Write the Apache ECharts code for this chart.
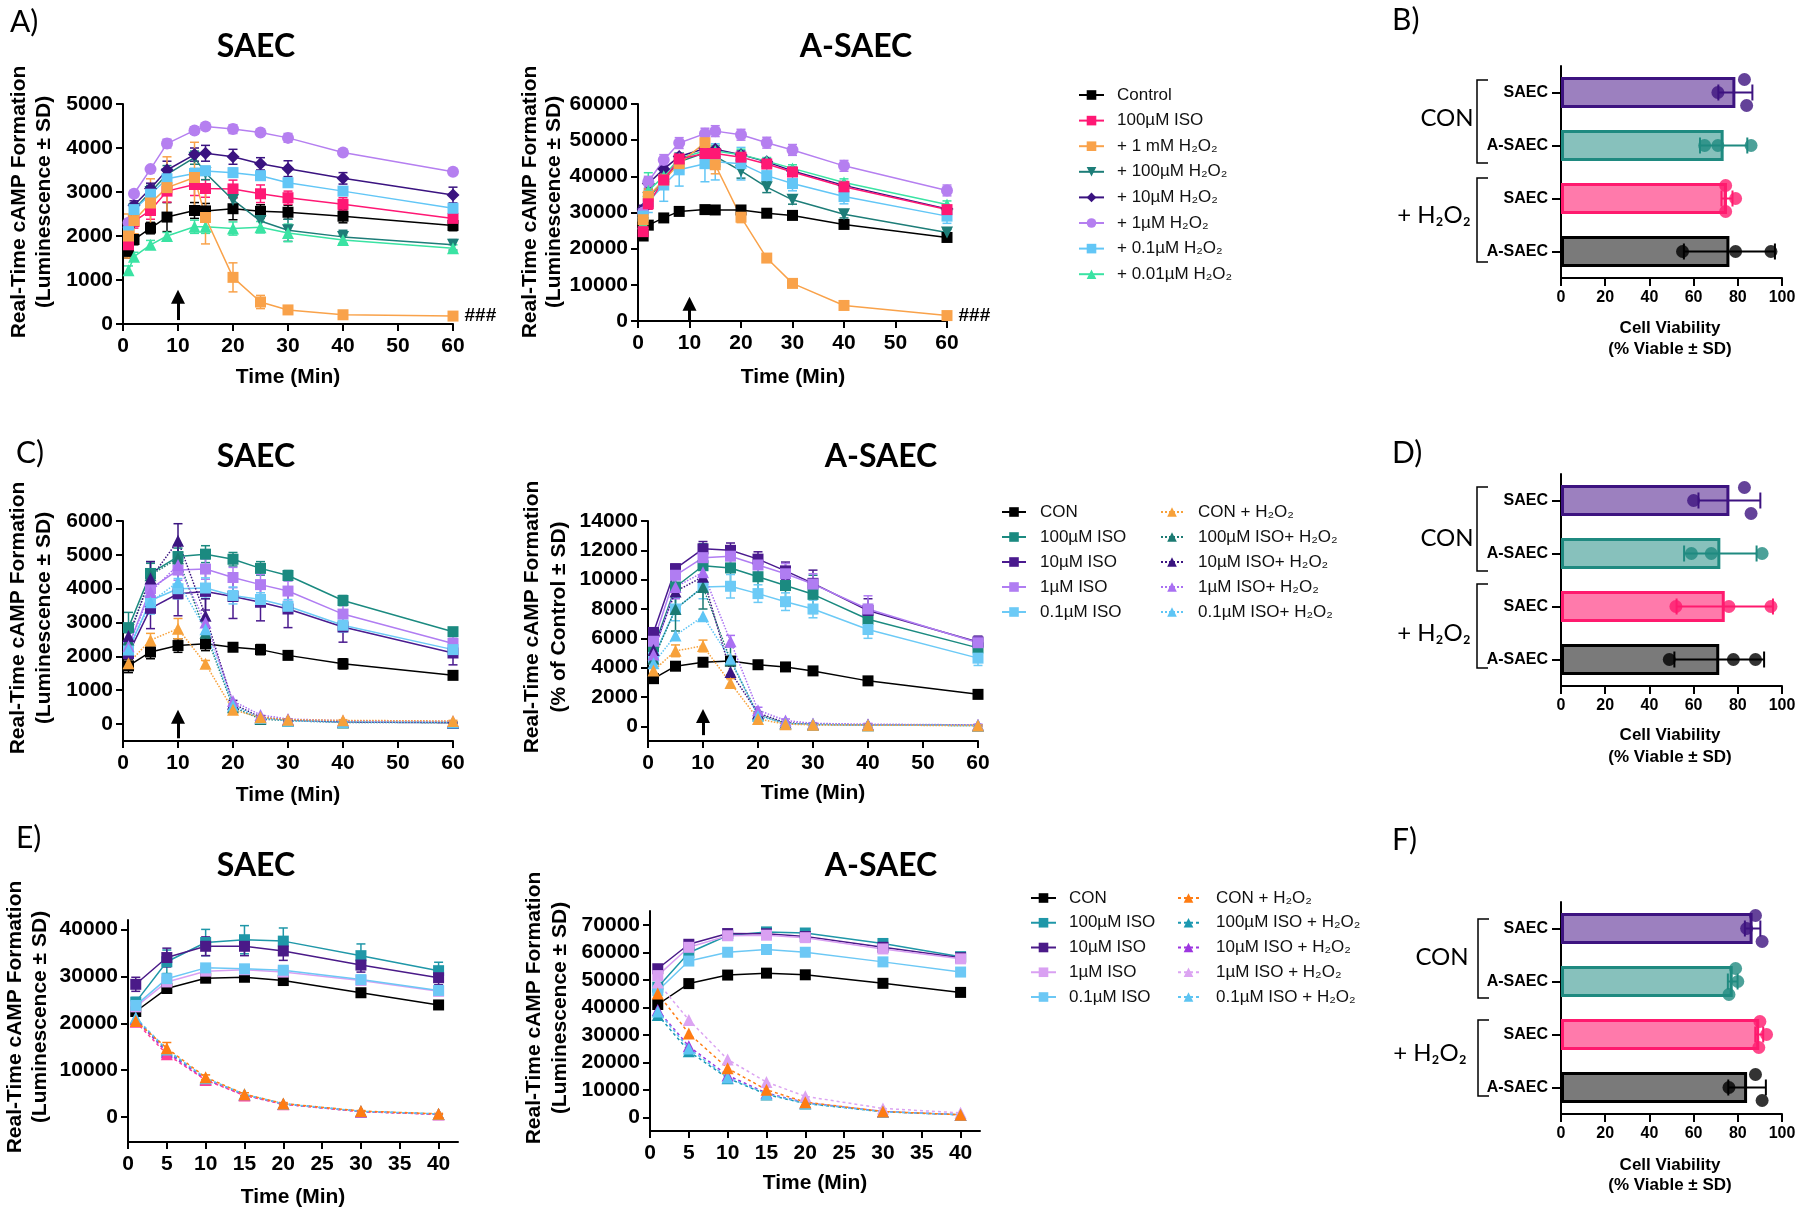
<!DOCTYPE html>
<html>
<head>
<meta charset="utf-8">
<script src="https://cdn.jsdelivr.net/npm/echarts@6/dist/echarts.min.js"></script>
<style>
html, body { margin: 0; padding: 0; background: #fff; }
#wrap { position: relative; width: 1800px; height: 1213px; }
.layer { position: absolute; left: 0; top: 0; width: 1800px; height: 1213px; }
</style>
</head>
<body>
<div id="wrap"></div>
<script>
// ---- A) H2O2 dose response (times in min) ----
const tA = [1, 2, 5, 8, 13, 15, 20, 25, 30, 40, 60]

const aS_control = [1650, 1920, 2180, 2430, 2580, 2570, 2620, 2560, 2540, 2450, 2240]
const aS_iso = [1800, 2330, 2580, 3020, 3170, 3080, 3070, 2960, 2870, 2720, 2400]
const aS_h1mM = [2000, 2350, 2750, 3100, 3330, 2420, 1060, 500, 320, 210, 180]
const aS_h100 = [2050, 2600, 3000, 3400, 3780, 3430, 2820, 2340, 2130, 1980, 1800]
const aS_h10 = [2200, 2700, 3080, 3500, 3850, 3880, 3800, 3640, 3530, 3310, 2930]
const aS_h1 = [2300, 2960, 3520, 4100, 4400, 4490, 4430, 4350, 4230, 3900, 3460]
const aS_h01 = [2100, 2600, 2950, 3300, 3420, 3480, 3440, 3370, 3210, 3020, 2630]
const aS_h001 = [1220, 1530, 1800, 2000, 2210, 2210, 2170, 2200, 2070, 1910, 1720]
const aS_control_sd = [150, 120, 130, 330, 180, 170, 250, 150, 160, 150, 120]
const aS_iso_sd = [150, 150, 200, 250, 250, 200, 200, 200, 150, 150, 120]
const aS_h1mM_sd = [500, 300, 550, 700, 800, 600, 330, 150, 60, 40, 30]
const aS_h100_sd = [150, 150, 150, 200, 150, 150, 150, 230, 250, 150, 120]
const aS_h10_sd = [100, 100, 120, 200, 150, 180, 170, 140, 180, 130, 180]
const aS_h1_sd = [60, 60, 60, 100, 80, 60, 100, 60, 100, 50, 60]
const aS_h01_sd = [100, 100, 100, 120, 120, 100, 100, 100, 100, 80, 100]
const aS_h001_sd = [100, 100, 100, 80, 150, 150, 150, 130, 200, 100, 80]

const aA_control = [23500, 26500, 28500, 30300, 30800, 30700, 30700, 29800, 29200, 26700, 23100]
const aA_iso = [24700, 32400, 39000, 44800, 46300, 46300, 45300, 43400, 41200, 37100, 30800]
const aA_h1mM = [28000, 34500, 39000, 43500, 49300, 43200, 28700, 17400, 10400, 4300, 1500]
const aA_h100 = [27000, 34000, 39000, 44000, 46500, 45500, 41500, 37000, 33500, 29500, 24500]
const aA_h10 = [31000, 38000, 42000, 45500, 47700, 47500, 46000, 44000, 41500, 37500, 31000]
const aA_h1 = [30000, 38500, 44500, 49200, 51800, 52500, 51500, 49300, 47300, 42900, 36100]
const aA_h01 = [29000, 33000, 37600, 41800, 43500, 44000, 43500, 40200, 38000, 34400, 29000]
const aA_h001 = [27000, 36000, 40000, 45000, 47000, 47000, 46000, 44200, 42200, 38300, 32200]
const aA_control_sd = [800, 600, 500, 400, 400, 400, 400, 400, 400, 400, 400]
const aA_iso_sd = [1000, 1500, 1500, 1500, 1500, 1500, 1200, 1000, 1000, 1500, 1000]
const aA_h1mM_sd = [2000, 2000, 2000, 2000, 3000, 2500, 1500, 800, 500, 500, 300]
const aA_h100_sd = [1000, 2000, 2000, 2000, 2000, 2000, 2000, 1500, 1200, 1000, 800]
const aA_h10_sd = [1000, 1500, 1000, 1000, 1000, 1000, 1000, 800, 1000, 1000, 800]
const aA_h1_sd = [1500, 1500, 1500, 1500, 1500, 1500, 1500, 1500, 1500, 1500, 1500]
const aA_h01_sd = [2000, 3000, 4500, 4500, 5000, 5000, 4500, 2000, 2000, 2000, 2000]
const aA_h001_sd = [1500, 5000, 1500, 1500, 1500, 1500, 1500, 1000, 1000, 1000, 1000]

// ---- C) ISO +/- H2O2 ----
const tC = [1, 5, 10, 15, 20, 25, 30, 40, 60]

const cS_con = [1720, 2130, 2320, 2370, 2270, 2200, 2030, 1780, 1440]
const cS_iso100 = [2850, 4450, 4950, 5020, 4870, 4600, 4390, 3650, 2730]
const cS_iso10 = [2080, 3420, 3850, 3920, 3770, 3600, 3400, 2870, 2100]
const cS_iso1 = [2300, 4000, 4550, 4580, 4330, 4120, 3930, 3250, 2380]
const cS_iso01 = [2200, 3650, 4000, 4020, 3800, 3680, 3480, 2920, 2200]
const cS_conH = [1800, 2480, 2820, 1780, 420, 200, 130, 110, 90]
const cS_iso100H = [2500, 4400, 4900, 2700, 500, 150, 100, 50, 40]
const cS_iso10H = [2600, 4300, 5420, 3200, 600, 200, 120, 60, 40]
const cS_iso1H = [2300, 3900, 4700, 3000, 680, 270, 150, 100, 80]
const cS_iso01H = [2200, 3600, 4200, 2800, 550, 180, 100, 60, 50]
const cS_con_sd = [200, 200, 200, 200, 100, 150, 100, 150, 80]
const cS_iso100_sd = [450, 300, 250, 250, 200, 200, 150, 150, 100]
const cS_iso10_sd = [250, 600, 650, 550, 650, 550, 550, 450, 350]
const cS_iso1_sd = [200, 500, 300, 300, 300, 300, 300, 300, 200]
const cS_iso01_sd = [150, 400, 300, 300, 250, 200, 200, 200, 150]
const cS_conH_sd = [200, 200, 300, 100, 50, 30, 20, 20, 20]
const cS_iso100H_sd = [200, 400, 400, 400, 100, 50, 30, 20, 20]
const cS_iso10H_sd = [200, 500, 500, 500, 100, 50, 30, 20, 20]

const cA_con = [3250, 4100, 4370, 4450, 4200, 4050, 3780, 3100, 2180]
const cA_iso100 = [5300, 9500, 10950, 10800, 10200, 9600, 9000, 7300, 5350]
const cA_iso10 = [6400, 10750, 12100, 12000, 11400, 10600, 9750, 7900, 5750]
const cA_iso1 = [5800, 10300, 11500, 11600, 11000, 10400, 9700, 8000, 5700]
const cA_iso01 = [4700, 8000, 9500, 9550, 9050, 8500, 8000, 6600, 4650]
const cA_conH = [3800, 5150, 5480, 2950, 500, 150, 100, 80, 50]
const cA_iso100H = [4600, 8000, 9500, 4500, 800, 200, 120, 80, 60]
const cA_iso10H = [5200, 9200, 10200, 3700, 900, 250, 150, 100, 80]
const cA_iso1H = [4900, 9500, 10500, 5800, 1100, 400, 200, 150, 100]
const cA_iso01H = [4300, 6200, 7500, 4600, 700, 200, 130, 80, 60]
const cA_con_sd = [200, 200, 200, 200, 200, 200, 200, 200, 200]
const cA_iso100_sd = [400, 1500, 1500, 1500, 1200, 1200, 1300, 1000, 600]
const cA_iso10_sd = [300, 300, 500, 500, 500, 600, 900, 800, 400]
const cA_iso1_sd = [300, 500, 500, 500, 500, 700, 700, 900, 400]
const cA_iso01_sd = [300, 800, 800, 800, 600, 600, 600, 600, 500]
const cA_conH_sd = [200, 400, 400, 300, 100, 50, 50, 50, 50]
const cA_iso100H_sd = [300, 1500, 1500, 1000, 200, 100, 50, 50, 50]
const cA_iso1H_sd = [300, 800, 800, 400, 200, 100, 50, 50, 50]

// ---- E) ISO +/- H2O2, 40 min ----
const tE = [1, 5, 10, 15, 20, 30, 40]

const eS_con = [22500, 27400, 29600, 29800, 29100, 26500, 23900]
const eS_iso100 = [24500, 33100, 37200, 37800, 37500, 34400, 31200]
const eS_iso10 = [28300, 34000, 36400, 36400, 35400, 32400, 29700]
const eS_iso1 = [23500, 28800, 31100, 31400, 30900, 29100, 26800]
const eS_iso01 = [23800, 29500, 31800, 31600, 31300, 29300, 27000]
const eS_conH = [20500, 14700, 8500, 4900, 2900, 1300, 700]
const eS_iso100H = [21000, 14200, 8200, 4800, 2800, 1200, 650]
const eS_iso10H = [20800, 13800, 8000, 4700, 2800, 1200, 600]
const eS_iso1H = [20300, 13400, 7900, 4600, 2750, 1150, 600]
const eS_iso01H = [21200, 14400, 8300, 4850, 2850, 1250, 680]
const eS_con_sd = [600, 500, 500, 500, 500, 500, 500]
const eS_iso100_sd = [1000, 2500, 2800, 3000, 2800, 2500, 1800]
const eS_iso10_sd = [1500, 2000, 2000, 2000, 2000, 1500, 1500]
const eS_iso1_sd = [800, 800, 800, 800, 800, 800, 800]
const eS_conH_sd = [1000, 1200, 500, 300, 200, 100, 100]

const eA_con = [41000, 48600, 51700, 52400, 51800, 48700, 45400]
const eA_iso100 = [47300, 59800, 66100, 67400, 67000, 63200, 58400]
const eA_iso10 = [54000, 62900, 66800, 66700, 65700, 61800, 58000]
const eA_iso1 = [51500, 61800, 66000, 66200, 65300, 61200, 57600]
const eA_iso01 = [46000, 56800, 60000, 61000, 60000, 56500, 52800]
const eA_conH = [45000, 30500, 17800, 10000, 5500, 2100, 900]
const eA_iso100H = [37200, 24000, 14200, 8300, 5000, 2000, 900]
const eA_iso10H = [39000, 25800, 15200, 8800, 5300, 2100, 900]
const eA_iso1H = [49000, 35400, 21000, 12800, 7600, 3200, 1600]
const eA_iso01H = [38500, 25000, 14500, 8500, 5100, 2000, 900]

// ---- B / D / F) viability ----
const barCats = ['SAEC', 'A-SAEC', 'SAEC ', 'A-SAEC ']
const bB_mean = [78.9, 73.6, 75.1, 76.2]
const bB_sd = [7.7, 10.7, 2.5, 20.6]
const bB_dots = [[83, 71, 84], [65, 71, 86], [74.5, 79, 74.5], [55, 79, 95]]
const bB_jit = [[-1, 0, 1], [0, 0, 0], [-1, 0, 1], [0, 0, 0]]
const bD_mean = [76.2, 72.1, 74.1, 71.6]
const bD_sd = [14, 16.4, 21.8, 20.3]
const bD_dots = [[83, 60, 86], [59, 68, 91], [52, 76, 95], [49, 78, 88]]
const bD_jit = [[-1, 0, 1], [0, 0, 0], [0, 0, 0], [0, 0, 0]]
const bF_mean = [86.7, 77.7, 89.7, 84.2]
const bF_sd = [3.5, 2.2, 1.8, 8.5]
const bF_dots = [[88, 84, 91], [79, 80, 76], [90, 93, 89.5], [88, 76, 91]]
const bF_jit = [[-1, 0, 1], [-1, 0, 1], [-1, 0, 1], [-1, 0, 1]]

const barFill = ['#9c80bf', '#87c1bc', '#ff7aab', '#7a7a7a']
const barEdge = ['#3d1380', '#1f8a80', '#ff1a6e', '#000000']

const AX = '"Liberation Sans", Arial, Helvetica, "DejaVu Sans", sans-serif'
const CAL = 'Lato, "Open Sans", "DejaVu Sans", sans-serif'
const wrap = document.getElementById('wrap')

function makeChart() {
  const d = document.createElement('div')
  d.className = 'layer'
  wrap.appendChild(d)
  return echarts.init(d, null, { renderer: 'canvas', width: 1800, height: 1213 })
}

function text(x, y, s, font, align, rot) {
  return {
    type: 'text', x, y, rotation: rot || 0, silent: true,
    style: { text: s, font, fill: '#000', textAlign: align || 'center', textVerticalAlign: 'middle', verticalAlign: 'middle' },
  }
}

function bracket(x, y0, y1) {
  return {
    type: 'polyline', silent: true,
    shape: { points: [[x + 11, y0], [x, y0], [x, y1], [x + 11, y1]] },
    style: { stroke: '#000', lineWidth: 1.5, fill: null },
  }
}

function errSeries(xs, ys, sd, color) {
  return {
    type: 'custom', silent: true, z: 2,
    encode: { x: 0, y: 1 },
    data: xs.map((x, i) => [x, ys[i], sd[i]]),
    renderItem(params, api) {
      const x = api.value(0), y = api.value(1), e = api.value(2)
      const a = api.coord([x, y + e]), b = api.coord([x, y - e])
      const w = 4.5
      const st = () => ({ stroke: color, lineWidth: 1.5 })
      return {
        type: 'group', children: [
          { type: 'line', shape: { x1: a[0], y1: a[1], x2: b[0], y2: b[1] }, style: st() },
          { type: 'line', shape: { x1: a[0] - w, y1: a[1], x2: a[0] + w, y2: a[1] }, style: st() },
          { type: 'line', shape: { x1: b[0] - w, y1: b[1], x2: b[0] + w, y2: b[1] }, style: st() },
        ],
      }
    },
  }
}

function mkLegend(L) {
  return {
    orient: 'vertical', left: L.left, top: L.top, padding: 0,
    itemWidth: L.w, itemHeight: 12, itemGap: L.gap, selectedMode: false,
    data: L.names,
    textStyle: { fontFamily: AX, fontSize: 17, color: '#111', lineHeight: 20, padding: [0, 0, 0, L.pad] },
  }
}

const axLine = { show: true, onZero: false, lineStyle: { color: '#000', width: 2 } }
const axTick = (vals) => ({ show: true, length: 7, customValues: vals, lineStyle: { color: '#000', width: 2 } })
const axLabel = (vals, margin) => ({
  customValues: vals, margin, color: '#000', fontFamily: AX, fontWeight: 'bold', fontSize: 21,
  formatter: (v) => String(v),
})

function linePanel(p) {
  const chart = makeChart()
  const series = []
  p.lines.forEach((s) => {
    const data = p.t.map((t, i) => [t, s.y[i]])
    if (s.tag) {
      const k = data.length - 1
      data[k] = {
        value: data[k],
        label: { show: true, formatter: s.tag, position: 'right', distance: 6, color: '#000', fontFamily: AX, fontWeight: 'bold', fontSize: 19 },
      }
    }
    series.push({
      type: 'line', name: s.name, data, z: 3,
      symbol: s.symbol, symbolSize: s.size || 11, symbolRotate: s.rot || 0,
      itemStyle: { color: s.color, borderWidth: 0 },
      lineStyle: { color: s.color, width: 1.5, type: s.dash || 'solid' },
      emphasis: { disabled: true },
    })
    if (s.sd) series.push(errSeries(p.t, s.y, s.sd, s.color))
  })
  if (p.arrow) {
    series[0].markLine = {
      silent: true, symbol: ['none', 'triangle'], symbolSize: 14,
      lineStyle: { color: '#000', width: 3, type: 'solid' },
      label: { show: false },
      data: [[{ coord: [10, p.arrow[0]] }, { coord: [10, p.arrow[1]] }]],
    }
  }
  const g = [
    text(p.title[1], p.title[2], p.title[0], 'bold 32px ' + CAL),
    text(p.yname[0][1], p.yname[2], p.yname[0][0], 'bold 21px ' + AX, 'center', Math.PI / 2),
    text(p.yname[1][1], p.yname[2], p.yname[1][0], 'bold 21px ' + AX, 'center', Math.PI / 2),
    text(p.xname[1], p.xname[2], p.xname[0], 'bold 21px ' + AX),
  ]
  if (p.letter) g.push(text(p.letter[1], p.letter[2], p.letter[0], '30px ' + CAL, 'left'))
  chart.setOption({
    animation: false,
    grid: Object.assign({ containLabel: false, outerBoundsMode: 'none' }, p.grid),
    xAxis: {
      type: 'value', min: p.x.min, max: p.x.max, interval: p.x.interval,
      axisLine: axLine, axisTick: axTick(p.x.ticks), axisLabel: axLabel(p.x.ticks, 12), splitLine: { show: false },
    },
    yAxis: {
      type: 'value', min: p.y.min, max: p.y.max, interval: p.y.interval,
      axisLine: axLine, axisTick: axTick(p.y.ticks), axisLabel: axLabel(p.y.ticks, 10), splitLine: { show: false },
    },
    legend: (p.legends || []).map(mkLegend),
    graphic: { elements: g },
    series,
  })
}

function barPanel(p) {
  const chart = makeChart()
  const dots = []
  p.dots.forEach((row, i) => row.forEach((v, j) => {
    dots.push({ value: [v, i], symbolOffset: [0, p.jit[i][j] * 13], itemStyle: { color: barEdge[i] } })
  }))
  chart.setOption({
    animation: false,
    grid: { left: 1561, top: p.top, width: 221, height: 212, containLabel: false, outerBoundsMode: 'none' },
    xAxis: {
      type: 'value', min: 0, max: 100, interval: 20,
      axisLine: axLine,
      axisTick: { show: true, length: 8, lineStyle: { color: '#000', width: 2 } },
      axisLabel: { color: '#000', fontFamily: AX, fontWeight: 'bold', fontSize: 16, margin: 12 },
      splitLine: { show: false },
    },
    yAxis: {
      type: 'category', inverse: true, data: barCats,
      axisLine: axLine,
      axisTick: { show: true, alignWithLabel: true, length: 9, lineStyle: { color: '#000', width: 2 } },
      axisLabel: { color: '#000', fontFamily: AX, fontWeight: 'bold', fontSize: 16, margin: 13, formatter: (v) => v.trim() },
    },
    graphic: {
      elements: [
        text(1392, p.letter[1], p.letter[0], '30px ' + CAL, 'left'),
        text(p.con[0], p.con[1], 'CON', '24px ' + CAL),
        text(p.h2o2[0], p.h2o2[1], '+ H₂O₂', '24px ' + CAL),
        bracket(p.bx, p.br1[0], p.br1[1]),
        bracket(p.bx, p.br2[0], p.br2[1]),
        text(1670, p.names[0], 'Cell Viability', 'bold 17px ' + AX),
        text(1670, p.names[1], '(% Viable ± SD)', 'bold 17px ' + AX),
      ],
    },
    series: [
      {
        type: 'bar', barWidth: 31, z: 1,
        data: p.mean.map((v, i) => ({ value: v, itemStyle: { color: barFill[i], borderColor: barEdge[i], borderWidth: 3 } })),
        emphasis: { disabled: true },
      },
      {
        type: 'custom', silent: true, z: 3,
        encode: { x: 0, y: 1 },
        data: p.mean.map((m, i) => [m, i, p.sd[i]]),
        renderItem(params, api) {
          const m = api.value(0), i = api.value(1), e = api.value(2)
          const a = api.coord([m - e, i]), b = api.coord([m + e, i])
          const c = barEdge[params.dataIndex]
          const st = () => ({ stroke: c, lineWidth: 2 })
          return {
            type: 'group', children: [
              { type: 'line', shape: { x1: a[0], y1: a[1], x2: b[0], y2: b[1] }, style: st() },
              { type: 'line', shape: { x1: a[0], y1: a[1] - 8, x2: a[0], y2: a[1] + 8 }, style: st() },
              { type: 'line', shape: { x1: b[0], y1: b[1] - 8, x2: b[0], y2: b[1] + 8 }, style: st() },
            ],
          }
        },
      },
      { type: 'scatter', z: 4, symbolSize: 13, data: dots, emphasis: { disabled: true } },
    ],
  })
}

const yLum = '(Luminescence ± SD)'
const yReal = 'Real-Time cAMP Formation'

// A) SAEC
linePanel({
  grid: { left: 123, top: 104, width: 330, height: 220 },
  t: tA, x: { min: 0, max: 60, interval: 10 }, y: { min: 0, max: 5000, interval: 1000 },
  arrow: [90, 620],
  title: ['SAEC', 256, 47], letter: ['A)', 10, 22],
  yname: [[yReal, 19], [yLum, 44], 202], xname: ['Time (Min)', 288, 377],
  lines: [
    { name: 'Control', y: aS_control, sd: aS_control_sd, color: '#000000', symbol: 'rect' },
    { name: '100µM ISO', y: aS_iso, sd: aS_iso_sd, color: '#ff1874', symbol: 'rect' },
    { name: '+ 100µM H₂O₂', y: aS_h100, sd: aS_h100_sd, color: '#1d7d78', symbol: 'triangle', rot: 180, size: 12 },
    { name: '+ 10µM H₂O₂', y: aS_h10, sd: aS_h10_sd, color: '#3a1380', symbol: 'diamond', size: 13 },
    { name: '+ 1µM H₂O₂', y: aS_h1, sd: aS_h1_sd, color: '#b57ff0', symbol: 'circle', size: 12 },
    { name: '+ 0.1µM H₂O₂', y: aS_h01, sd: aS_h01_sd, color: '#62c6f6', symbol: 'rect' },
    { name: '+ 0.01µM H₂O₂', y: aS_h001, sd: aS_h001_sd, color: '#3ae3a3', symbol: 'triangle', size: 12 },
    { name: '+ 1 mM H₂O₂', y: aS_h1mM, sd: aS_h1mM_sd, color: '#f9a24a', symbol: 'rect', tag: '###' },
  ],
})

// A) A-SAEC + legend
linePanel({
  grid: { left: 638, top: 104, width: 309, height: 217 },
  t: tA, x: { min: 0, max: 60, interval: 10 }, y: { min: 0, max: 60000, interval: 10000 },
  arrow: [100, 4800],
  title: ['A-SAEC', 856, 47],
  yname: [[yReal, 530], [yLum, 554], 202], xname: ['Time (Min)', 793, 377],
  lines: [
    { name: 'Control', y: aA_control, sd: aA_control_sd, color: '#000000', symbol: 'rect' },
    { name: '+ 100µM H₂O₂', y: aA_h100, sd: aA_h100_sd, color: '#1d7d78', symbol: 'triangle', rot: 180, size: 12 },
    { name: '+ 10µM H₂O₂', y: aA_h10, sd: aA_h10_sd, color: '#3a1380', symbol: 'diamond', size: 13 },
    { name: '+ 1µM H₂O₂', y: aA_h1, sd: aA_h1_sd, color: '#b57ff0', symbol: 'circle', size: 12 },
    { name: '+ 0.1µM H₂O₂', y: aA_h01, sd: aA_h01_sd, color: '#62c6f6', symbol: 'rect' },
    { name: '+ 0.01µM H₂O₂', y: aA_h001, sd: aA_h001_sd, color: '#3ae3a3', symbol: 'triangle', size: 12 },
    { name: '+ 1 mM H₂O₂', y: aA_h1mM, sd: aA_h1mM_sd, color: '#f9a24a', symbol: 'rect', tag: '###' },
    { name: '100µM ISO', y: aA_iso, sd: aA_iso_sd, color: '#ff1874', symbol: 'rect' },
  ],
  legends: [{
    left: 1078, top: 85, w: 25, gap: 5.6, pad: 8,
    names: ['Control', '100µM ISO', '+ 1 mM H₂O₂', '+ 100µM H₂O₂', '+ 10µM H₂O₂', '+ 1µM H₂O₂', '+ 0.1µM H₂O₂', '+ 0.01µM H₂O₂'],
  }],
})

// C) SAEC
const tickC = [0, 1000, 2000, 3000, 4000, 5000, 6000]
linePanel({
  grid: { left: 123, top: 521, width: 330, height: 220 },
  t: tC, x: { min: 0, max: 60, interval: 10 }, y: { min: -500, max: 6000, ticks: tickC },
  arrow: [-420, 220],
  title: ['SAEC', 256, 457], letter: ['C)', 16, 453],
  yname: [[yReal, 18], [yLum, 44], 618], xname: ['Time (Min)', 288, 795],
  lines: [
    { name: 'CON', y: cS_con, sd: cS_con_sd, color: '#000000', symbol: 'rect' },
    { name: '100µM ISO', y: cS_iso100, sd: cS_iso100_sd, color: '#1b8a80', symbol: 'rect' },
    { name: '10µM ISO', y: cS_iso10, sd: cS_iso10_sd, color: '#4a1a8e', symbol: 'rect' },
    { name: '1µM ISO', y: cS_iso1, sd: cS_iso1_sd, color: '#b07df2', symbol: 'rect' },
    { name: '0.1µM ISO', y: cS_iso01, sd: cS_iso01_sd, color: '#6ccaf6', symbol: 'rect' },
    { name: '100µM ISO+ H₂O₂', y: cS_iso100H, sd: cS_iso100H_sd, color: '#1b7a72', symbol: 'triangle', dash: 'dotted', size: 12 },
    { name: '10µM ISO+ H₂O₂', y: cS_iso10H, sd: cS_iso10H_sd, color: '#3b1580', symbol: 'triangle', dash: 'dotted', size: 12 },
    { name: '1µM ISO+ H₂O₂', y: cS_iso1H, color: '#a970f2', symbol: 'triangle', dash: 'dotted', size: 12 },
    { name: '0.1µM ISO+ H₂O₂', y: cS_iso01H, color: '#5ec5f5', symbol: 'triangle', dash: 'dotted', size: 12 },
    { name: 'CON + H₂O₂', y: cS_conH, sd: cS_conH_sd, color: '#f7a13a', symbol: 'triangle', dash: 'dotted', size: 12 },
  ],
})

// C) A-SAEC + legend
const tickC2 = [0, 2000, 4000, 6000, 8000, 10000, 12000, 14000]
linePanel({
  grid: { left: 648, top: 521, width: 330, height: 220 },
  t: tC, x: { min: 0, max: 60, interval: 10 }, y: { min: -1000, max: 14000, ticks: tickC2 },
  arrow: [-600, 700],
  title: ['A-SAEC', 881, 457],
  yname: [[yReal, 532], ['(% of Control ± SD)', 559], 617], xname: ['Time (Min)', 813, 793],
  lines: [
    { name: 'CON', y: cA_con, sd: cA_con_sd, color: '#000000', symbol: 'rect' },
    { name: '100µM ISO', y: cA_iso100, sd: cA_iso100_sd, color: '#1b8a80', symbol: 'rect' },
    { name: '10µM ISO', y: cA_iso10, sd: cA_iso10_sd, color: '#4a1a8e', symbol: 'rect' },
    { name: '1µM ISO', y: cA_iso1, sd: cA_iso1_sd, color: '#b07df2', symbol: 'rect' },
    { name: '0.1µM ISO', y: cA_iso01, sd: cA_iso01_sd, color: '#6ccaf6', symbol: 'rect' },
    { name: '100µM ISO+ H₂O₂', y: cA_iso100H, sd: cA_iso100H_sd, color: '#1b7a72', symbol: 'triangle', dash: 'dotted', size: 12 },
    { name: '10µM ISO+ H₂O₂', y: cA_iso10H, color: '#3b1580', symbol: 'triangle', dash: 'dotted', size: 12 },
    { name: '1µM ISO+ H₂O₂', y: cA_iso1H, sd: cA_iso1H_sd, color: '#a970f2', symbol: 'triangle', dash: 'dotted', size: 12 },
    { name: '0.1µM ISO+ H₂O₂', y: cA_iso01H, color: '#5ec5f5', symbol: 'triangle', dash: 'dotted', size: 12 },
    { name: 'CON + H₂O₂', y: cA_conH, sd: cA_conH_sd, color: '#f7a13a', symbol: 'triangle', dash: 'dotted', size: 12 },
  ],
  legends: [
    { left: 1001, top: 502, w: 24, gap: 5, pad: 9, names: ['CON', '100µM ISO', '10µM ISO', '1µM ISO', '0.1µM ISO'] },
    { left: 1160, top: 502, w: 22, gap: 5, pad: 10, names: ['CON + H₂O₂', '100µM ISO+ H₂O₂', '10µM ISO+ H₂O₂', '1µM ISO+ H₂O₂', '0.1µM ISO+ H₂O₂'] },
  ],
})

// E) SAEC (no arrow in this panel)
const tickEx = [0, 5, 10, 15, 20, 25, 30, 35, 40]
linePanel({
  grid: { left: 128, top: 920, width: 330, height: 222 },
  t: tE, x: { min: 0, max: 42.5, ticks: tickEx }, y: { min: -5300, max: 42000, ticks: [0, 10000, 20000, 30000, 40000] },
  title: ['SAEC', 256, 866], letter: ['E)', 16, 838],
  yname: [[yReal, 15], [yLum, 40], 1017], xname: ['Time (Min)', 293, 1197],
  lines: [
    { name: 'CON', y: eS_con, sd: eS_con_sd, color: '#000000', symbol: 'rect' },
    { name: '100µM ISO', y: eS_iso100, sd: eS_iso100_sd, color: '#1f97a8', symbol: 'rect' },
    { name: '10µM ISO', y: eS_iso10, sd: eS_iso10_sd, color: '#4a1a88', symbol: 'rect' },
    { name: '1µM ISO', y: eS_iso1, sd: eS_iso1_sd, color: '#d9a0f2', symbol: 'rect' },
    { name: '0.1µM ISO', y: eS_iso01, color: '#6cc8f5', symbol: 'rect' },
    { name: '100µM ISO + H₂O₂', y: eS_iso100H, color: '#1b98b0', symbol: 'triangle', dash: [3, 3], size: 12 },
    { name: '10µM ISO + H₂O₂', y: eS_iso10H, color: '#9d36e0', symbol: 'triangle', dash: [3, 3], size: 12 },
    { name: '1µM ISO + H₂O₂', y: eS_iso1H, color: '#ff3d9a', symbol: 'triangle', dash: [3, 3], size: 12 },
    { name: '0.1µM ISO + H₂O₂', y: eS_iso01H, color: '#5dc4f2', symbol: 'triangle', dash: [3, 3], size: 12 },
    { name: 'CON + H₂O₂', y: eS_conH, sd: eS_conH_sd, color: '#ff7c12', symbol: 'triangle', dash: [3, 3], size: 12 },
  ],
})

// E) A-SAEC + legend
linePanel({
  grid: { left: 650, top: 911, width: 330, height: 220 },
  t: tE, x: { min: 0, max: 42.5, ticks: tickEx }, y: { min: -5000, max: 75000, ticks: [0, 10000, 20000, 30000, 40000, 50000, 60000, 70000] },
  title: ['A-SAEC', 881, 866],
  yname: [[yReal, 534], [yLum, 560], 1008], xname: ['Time (Min)', 815, 1183],
  lines: [
    { name: 'CON', y: eA_con, color: '#000000', symbol: 'rect' },
    { name: '100µM ISO', y: eA_iso100, color: '#1f97a8', symbol: 'rect' },
    { name: '10µM ISO', y: eA_iso10, color: '#4a1a88', symbol: 'rect' },
    { name: '1µM ISO', y: eA_iso1, color: '#d9a0f2', symbol: 'rect' },
    { name: '0.1µM ISO', y: eA_iso01, color: '#6cc8f5', symbol: 'rect' },
    { name: '100µM ISO + H₂O₂', y: eA_iso100H, color: '#1b98b0', symbol: 'triangle', dash: [3, 3], size: 12 },
    { name: '10µM ISO + H₂O₂', y: eA_iso10H, color: '#9d36e0', symbol: 'triangle', dash: [3, 3], size: 12 },
    { name: '1µM ISO + H₂O₂', y: eA_iso1H, color: '#dca4f2', symbol: 'triangle', dash: [3, 3], size: 12 },
    { name: '0.1µM ISO + H₂O₂', y: eA_iso01H, color: '#5dc4f2', symbol: 'triangle', dash: [3, 3], size: 12 },
    { name: 'CON + H₂O₂', y: eA_conH, color: '#ff7c12', symbol: 'triangle', dash: [3, 3], size: 12 },
  ],
  legends: [
    { left: 1030, top: 888, w: 25, gap: 4.75, pad: 8, names: ['CON', '100µM ISO', '10µM ISO', '1µM ISO', '0.1µM ISO'] },
    { left: 1177, top: 888, w: 21, gap: 4.75, pad: 12, names: ['CON + H₂O₂', '100µM ISO + H₂O₂', '10µM ISO + H₂O₂', '1µM ISO + H₂O₂', '0.1µM ISO + H₂O₂'] },
  ],
})

// B / D / F) viability bars
barPanel({ top: 66, mean: bB_mean, sd: bB_sd, dots: bB_dots, jit: bB_jit, letter: ['B)', 20],
  con: [1447, 118], h2o2: [1434, 215], bx: 1477, br1: [80, 163], br2: [178, 262], names: [328, 349] })
barPanel({ top: 474, mean: bD_mean, sd: bD_sd, dots: bD_dots, jit: bD_jit, letter: ['D)', 453],
  con: [1447, 538], h2o2: [1434, 633], bx: 1477, br1: [487, 571], br2: [584, 668], names: [735, 757] })
barPanel({ top: 902, mean: bF_mean, sd: bF_sd, dots: bF_dots, jit: bF_jit, letter: ['F)', 840],
  con: [1442, 957], h2o2: [1430, 1053], bx: 1478, br1: [919, 998], br2: [1020, 1096], names: [1165, 1185] })
</script>
</body>
</html>
